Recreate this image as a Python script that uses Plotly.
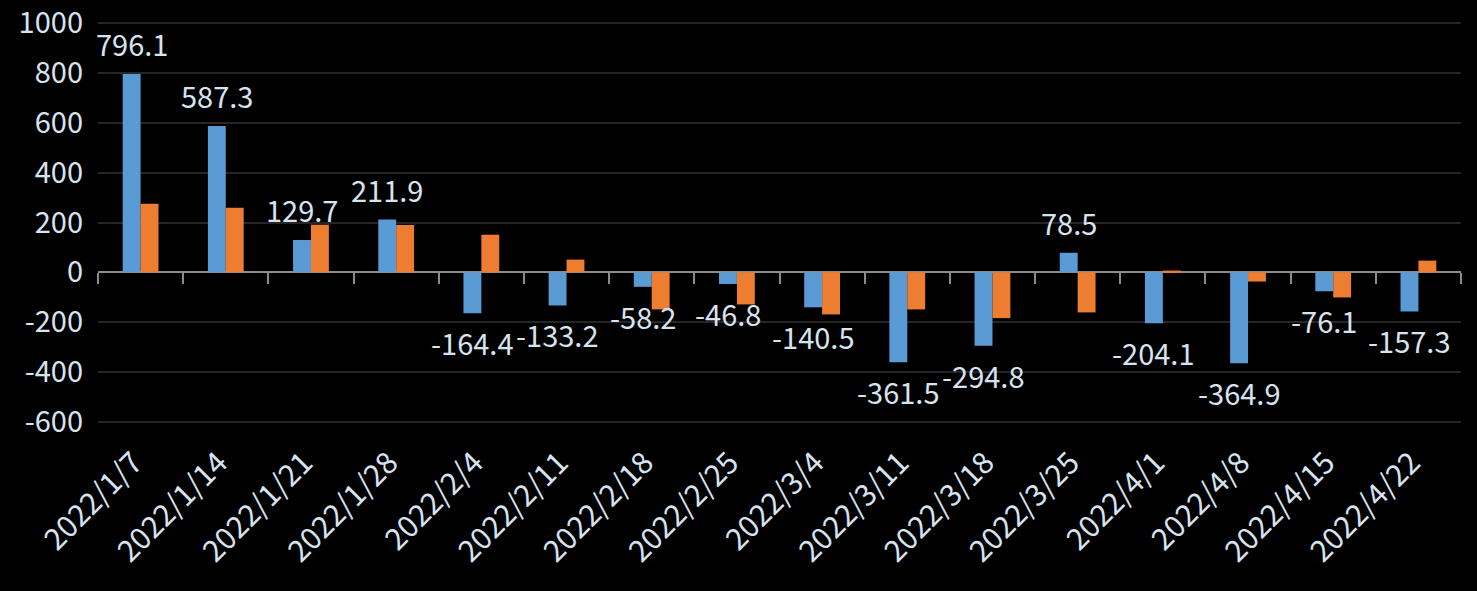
import plotly.graph_objects as go

categories = ["2022/1/7", "2022/1/14", "2022/1/21", "2022/1/28", "2022/2/4", "2022/2/11",
              "2022/2/18", "2022/2/25", "2022/3/4", "2022/3/11", "2022/3/18", "2022/3/25",
              "2022/4/1", "2022/4/8", "2022/4/15", "2022/4/22"]
blue_values = [796.1, 587.3, 129.7, 211.9, -164.4, -133.2, -58.2, -46.8, -140.5, -361.5,
               -294.8, 78.5, -204.1, -364.9, -76.1, -157.3]
orange_values = [275, 259, 191, 190, 151, 51, -149, -129, -169, -149, -184, -161, 7, -37, -101, 47]
y_ticks = [-600, -400, -200, 0, 200, 400, 600, 800, 1000]
y_tick_labels = [str(v) for v in y_ticks]

FONT = "Noto Sans CJK TC, Noto Sans, sans-serif"
TXT = "#d8e3f0"
BLUE = "#5b9bd5"
ORANGE = "#ed7d31"
Y_MIN, Y_MAX = -600, 1000
PAD = 5
X_RANGE = [-0.5, len(categories) - 0.5]

fig = go.Figure()
fig.add_trace(go.Bar(x=categories, y=blue_values, marker=dict(color=BLUE, line=dict(width=0)),
                     name="A", hoverinfo="x+y"))
fig.add_trace(go.Bar(x=categories, y=orange_values, marker=dict(color=ORANGE, line=dict(width=0)),
                     name="B", hoverinfo="x+y"))
# invisible trace carrying the zero-line category axis (tick marks at boundaries)
fig.add_trace(go.Scatter(x=categories, y=blue_values, xaxis="x2", mode="markers",
                         marker=dict(opacity=0), hoverinfo="skip", showlegend=False))

for c, v in zip(categories, blue_values):
    fig.add_annotation(x=c, y=v, text=f"{v:.1f}", showarrow=False, xshift=-9,
                       yshift=31 if v >= 0 else -29,
                       font=dict(family=FONT, size=29, color=TXT))

fig.update_layout(
    width=1477, height=591,
    paper_bgcolor="black", plot_bgcolor="black",
    margin=dict(l=98, r=16, t=22, b=168, autoexpand=False),
    barmode="group", bargap=0.58, bargroupgap=0,
    showlegend=False,
    font=dict(family=FONT, color=TXT, size=29),
    xaxis=dict(type="category", range=X_RANGE, tickangle=-45, showgrid=False, showline=False,
               zeroline=False, ticks="", tickfont=dict(family=FONT, size=30, color=TXT),
               ticklabelstandoff=15, ticklabelshift=-7, ticklabeloverflow="allow",
               automargin=False),
    xaxis2=dict(type="category", overlaying="x", matches="x", anchor="free",
                position=(0 - (Y_MIN - PAD)) / ((Y_MAX + PAD) - (Y_MIN - PAD)), showticklabels=False,
                ticks="outside", tickson="boundaries", ticklen=11, tickwidth=2,
                tickcolor="#8c8c8c", showgrid=False, showline=False, zeroline=False,
                automargin=False),
    yaxis=dict(range=[Y_MIN - PAD, Y_MAX + PAD], tickvals=y_ticks, ticktext=y_tick_labels,
               showgrid=True, gridcolor="#262626",
               gridwidth=2, zeroline=True, zerolinecolor="#8c8c8c", zerolinewidth=2,
               showline=False, ticks="", tickfont=dict(family=FONT, size=29, color=TXT),
               ticklabelstandoff=14, ticklabeloverflow="allow", automargin=False),
)

fig.write_html("out.html", config={"displayModeBar": False},
               post_script="document.body.style.margin='0';document.body.style.overflow='hidden';")
